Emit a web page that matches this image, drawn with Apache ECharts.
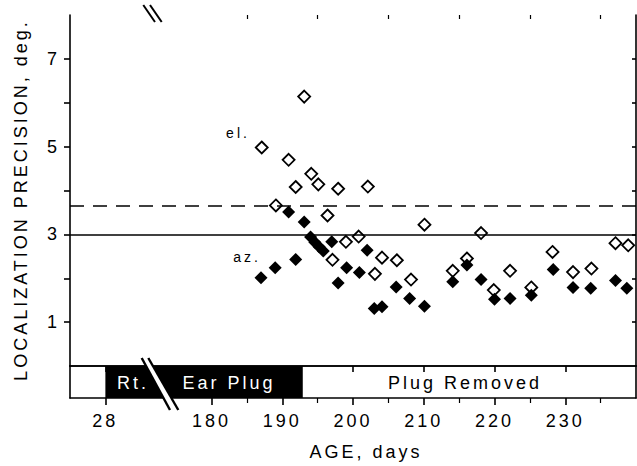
<!DOCTYPE html>
<html><head><meta charset="utf-8">
<script src="https://cdn.jsdelivr.net/npm/echarts@6/dist/echarts.min.js"></script>
<style>
html,body{margin:0;padding:0;background:#fff;}
#chart{width:637px;height:466px;}
#chart svg text{letter-spacing:3px;}
</style></head><body><div id="chart"></div>
<script>
// elevation (open diamonds)
const elAge=[187.1,189.1,190.9,191.9,193.1,194.1,195.1,196.4,197.1,197.9,199.0,200.8,202.1,203.1,204.1,206.2,208.2,210.1,214.1,216.1,218.1,219.9,222.2,225.2,228.2,231.1,233.7,237.1,238.9];
const elVal=[4.98,3.66,4.70,4.08,6.14,4.38,4.14,3.43,2.42,4.04,2.83,2.95,4.09,2.10,2.47,2.41,1.97,3.22,2.17,2.45,3.03,1.73,2.17,1.79,2.60,2.14,2.22,2.80,2.75];
// azimuth (filled diamonds)
const azAge=[187.0,189.0,190.9,191.9,193.1,194.0,194.6,195.2,195.8,197.0,197.9,199.1,200.9,202.0,203.0,204.1,206.1,208.0,210.1,214.1,216.1,218.1,220.0,222.2,225.2,228.3,231.1,233.6,237.1,238.7];
const azVal=[2.01,2.24,3.51,2.43,3.28,2.94,2.82,2.72,2.62,2.83,1.89,2.24,2.13,2.64,1.31,1.35,1.80,1.54,1.36,1.92,2.30,1.97,1.52,1.54,1.61,2.20,1.79,1.77,1.95,1.77];
const xTickAges=[28,180,190,200,210,220,230];
const xMinorAges=[185,195,205,215,225,235];
const yTicks=[1,2,3,4,5,6,7];
const yLabels=[1,3,5,7];
const dashedLevel=3.65;
const solidLevel=3.0;
const plugStartAge=28, plugEndAge=192.9;
const BREAK_SHIFT=137; // ages before the axis break are drawn shifted right
function toAxis(a){return a<100?a+BREAK_SHIFT:a;}
function fromAxis(v){return v<170?Math.round(v-BREAK_SHIFT):Math.round(v);}

const FONT="'Liberation Sans', Arial, Helvetica, sans-serif";
const chart=echarts.init(document.getElementById('chart'),null,{renderer:'svg'});
const LW=1.6;
const xMajor=xTickAges.map(toAxis);
const baseX={type:'value',min:160,max:240,splitLine:{show:false},axisLabel:{show:false},axisTick:{show:false},axisLine:{show:false}};
const lineStyle={color:'#000',width:LW};
function pts(a,v){return a.map((x,i)=>[x,v[i]]);}

const option={
  animation:false,
  backgroundColor:'#fff',
  textStyle:{fontFamily:FONT},
  grid:[
    {left:70,top:15,width:566,height:351},
    {left:70,top:366,width:566,height:32}
  ],
  xAxis:[
    Object.assign({},baseX,{gridIndex:0,position:'bottom',axisLine:{show:true,lineStyle}}),
    Object.assign({},baseX,{gridIndex:0,position:'top',axisLine:{show:true,lineStyle},
      axisTick:{show:true,inside:true,length:6,customValues:xMajor,lineStyle}}),
    Object.assign({},baseX,{gridIndex:0,position:'top',
      axisTick:{show:true,inside:true,length:4,customValues:xMinorAges,lineStyle:{color:'#000',width:1.2}}}),
    Object.assign({},baseX,{gridIndex:1,position:'bottom',axisLine:{show:true,lineStyle},
      axisTick:{show:true,inside:false,length:7,customValues:xMajor,lineStyle},
      axisLabel:{show:true,customValues:xMajor,margin:14,fontSize:18,color:'#000',fontFamily:FONT,
        formatter:v=>String(fromAxis(v))}}),
    Object.assign({},baseX,{gridIndex:1,position:'bottom',
      axisTick:{show:true,inside:false,length:5,customValues:xMinorAges,lineStyle:{color:'#000',width:1.2}}})
  ],
  yAxis:[
    {type:'value',gridIndex:0,position:'left',min:0,max:8,interval:1,splitLine:{show:false},
      axisLine:{show:true,lineStyle},
      axisTick:{show:true,inside:false,length:6,customValues:yTicks,lineStyle},
      axisLabel:{show:true,customValues:yLabels,margin:10,fontSize:18,color:'#000',fontFamily:FONT}},
    {type:'value',gridIndex:0,position:'right',min:0,max:8,interval:1,splitLine:{show:false},
      axisLine:{show:true,lineStyle},
      axisTick:{show:true,inside:true,length:4,customValues:yTicks,lineStyle},
      axisLabel:{show:false}},
    {type:'value',gridIndex:1,position:'left',min:0,max:1,splitLine:{show:false},
      axisLine:{show:true,lineStyle},axisTick:{show:false},axisLabel:{show:false}},
    {type:'value',gridIndex:1,position:'right',min:0,max:1,splitLine:{show:false},
      axisLine:{show:true,lineStyle},axisTick:{show:false},axisLabel:{show:false}}
  ],
  series:[
    {type:'custom',xAxisIndex:3,yAxisIndex:2,z:1,
      data:[[toAxis(plugStartAge),plugEndAge]],
      renderItem:function(params,api){
        const p0=api.coord([api.value(0),1]);
        const p1=api.coord([api.value(1),0]);
        return {type:'rect',shape:{x:p0[0],y:p0[1],width:p1[0]-p0[0],height:p1[1]-p0[1]},style:{fill:'#000'}};
      }},
    {type:'scatter',xAxisIndex:0,yAxisIndex:0,z:1,data:[],
      markLine:{silent:true,symbol:['none','none'],label:{show:false},animation:false,
        data:[
          {yAxis:dashedLevel,lineStyle:{color:'#000',width:1.5,type:[14,9]}},
          {yAxis:solidLevel,lineStyle:{color:'#000',width:1.5,type:'solid'}}
        ]}},
    {name:'el.',type:'scatter',xAxisIndex:0,yAxisIndex:0,z:3,symbol:'diamond',symbolSize:12,
      itemStyle:{color:'#fff',borderColor:'#000',borderWidth:1.8,opacity:1},
      data:pts(elAge,elVal)},
    {name:'az.',type:'scatter',xAxisIndex:0,yAxisIndex:0,z:4,symbol:'diamond',symbolSize:13,
      itemStyle:{color:'#000',opacity:1},
      data:pts(azAge,azVal)}
  ],
  graphic:[
    {type:'text',z:100,x:21,y:200,rotation:Math.PI/2,
      style:{text:'LOCALIZATION PRECISION, deg.',font:'18px '+FONT,fill:'#000',align:'center',verticalAlign:'middle'}},
    {type:'text',z:100,x:366,y:452,
      style:{text:'AGE, days',font:'18px '+FONT,fill:'#000',align:'center',verticalAlign:'middle'}},
    {type:'text',z:100,x:238,y:133,
      style:{text:'el.',font:'14px '+FONT,fill:'#000',align:'center',verticalAlign:'middle'}},
    {type:'text',z:100,x:247,y:257,
      style:{text:'az.',font:'14px '+FONT,fill:'#000',align:'center',verticalAlign:'middle'}},
    // axis break marks (bottom)
    {type:'polygon',z:100,shape:{points:[[141.7,358],[148.3,358],[178.3,410],[170,410]]},style:{fill:'#fff'}},
    {type:'line',z:101,shape:{x1:141.7,y1:358,x2:170,y2:410},style:{stroke:'#000',lineWidth:2.4}},
    {type:'line',z:101,shape:{x1:148.3,y1:358,x2:178.3,y2:410},style:{stroke:'#000',lineWidth:2.4}},
    // axis break marks (top)
    {type:'polygon',z:100,shape:{points:[[143.3,5],[150,5],[161.7,22],[155,22]]},style:{fill:'#fff'}},
    {type:'line',z:101,shape:{x1:143.3,y1:5,x2:155,y2:22},style:{stroke:'#000',lineWidth:2}},
    {type:'line',z:101,shape:{x1:150,y1:5,x2:161.7,y2:22},style:{stroke:'#000',lineWidth:2}},
    // band texts
    {type:'text',z:102,x:133,y:383,
      style:{text:'Rt.',font:'18px '+FONT,fill:'#fff',align:'center',verticalAlign:'middle'}},
    {type:'text',z:102,x:229,y:383,
      style:{text:'Ear Plug',font:'18px '+FONT,fill:'#fff',align:'center',verticalAlign:'middle'}},
    {type:'text',z:102,x:465,y:383,
      style:{text:'Plug Removed',font:'18px '+FONT,fill:'#000',align:'center',verticalAlign:'middle'}}
  ]
};
chart.setOption(option);
</script></body></html>
